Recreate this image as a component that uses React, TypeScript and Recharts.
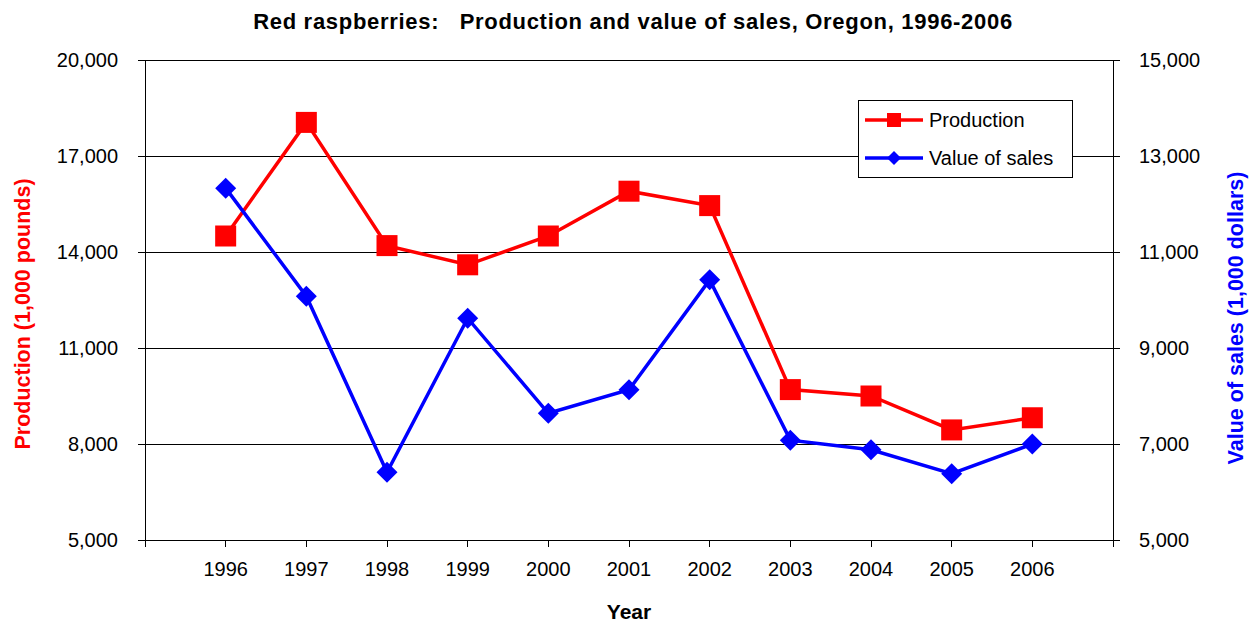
import React from 'react';
import {
  LineChart, Line, XAxis, YAxis, CartesianGrid, Legend
} from 'recharts';

const years = [1996, 1997, 1998, 1999, 2000, 2001, 2002, 2003, 2004, 2005, 2006];
const production = [14500, 18050, 14200, 13600, 14500, 15900, 15450, 9700, 9500, 8440, 8820];
const valueOfSales = [12330, 10080, 6410, 9620, 7640, 8130, 10420, 7080, 6880, 6380, 7000];

const yearTicks = [1995, 1996, 1997, 1998, 1999, 2000, 2001, 2002, 2003, 2004, 2005, 2006, 2007];
const productionTicks = [5000, 8000, 11000, 14000, 17000, 20000];
const salesTicks = [5000, 7000, 9000, 11000, 13000, 15000];

const data = years.map((year, i) => ({
  year,
  production: production[i],
  sales: valueOfSales[i],
}));

const FONT = '"Liberation Sans", Arial, sans-serif';
const RED = '#ff0000';
const BLUE = '#0000ff';

const fmt = (v: number) => v.toLocaleString('en-US');

const SquareDot = (props: any) => {
  const { cx, cy, index } = props;
  if (cx == null || cy == null) return <g key={`s-${index}`} />;
  return <rect key={`s-${index}`} x={cx - 10.5} y={cy - 10.5} width={21} height={21} fill={RED} />;
};

const DiamondDot = (props: any) => {
  const { cx, cy, index } = props;
  if (cx == null || cy == null) return <g key={`d-${index}`} />;
  const r = 10.5;
  return (
    <polygon
      key={`d-${index}`}
      points={`${cx},${cy - r} ${cx + r},${cy} ${cx},${cy + r} ${cx - r},${cy}`}
      fill={BLUE}
    />
  );
};

const LegendBox = () => {
  const row = (label: string, color: string, marker: 'square' | 'diamond') => (
    <div style={{ display: 'flex', alignItems: 'center', height: 38 }}>
      <svg width={66} height={20} style={{ marginLeft: 4 }}>
        <line x1={2} y1={10} x2={60} y2={10} stroke={color} strokeWidth={3.5} />
        {marker === 'square' ? (
          <rect x={24} y={3} width={14} height={14} fill={color} />
        ) : (
          <polygon points="31,3 38,10 31,17 24,10" fill={color} />
        )}
      </svg>
      <span style={{ fontSize: 20, color: '#000', fontFamily: FONT }}>{label}</span>
    </div>
  );
  return (
    <div
      style={{
        border: '1px solid #000',
        background: '#fff',
        width: 213,
        height: 76,
        boxSizing: 'content-box',
      }}
    >
      {row('Production', RED, 'square')}
      {row('Value of sales', BLUE, 'diamond')}
    </div>
  );
};

export default function App() {
  return (
    <div style={{ position: 'absolute', left: 0, top: 0, width: 1252, height: 623, background: '#fff', fontFamily: FONT }}>
      <div
        style={{
          position: 'absolute',
          top: 11,
          left: 633,
          transform: 'translateX(-50%)',
          fontSize: 22,
          lineHeight: '21px',
          fontWeight: 'bold',
          letterSpacing: 0.7,
          whiteSpace: 'pre',
          color: '#000',
        }}
      >
        {'Red raspberries:   Production and value of sales, Oregon, 1996-2006'}
      </div>
      <LineChart
        width={1252}
        height={623}
        data={data}
        margin={{ top: 60, right: 59, bottom: 33, left: 65 }}
        style={{ fontFamily: FONT }}
      >
        <CartesianGrid yAxisId="left" vertical={false} stroke="#000" strokeWidth={1} shapeRendering="crispEdges" />
        <XAxis
          dataKey="year"
          type="number"
          domain={[1995, 2007]}
          ticks={yearTicks}
          interval={0}
          tickFormatter={(v: number) => (v === 1995 || v === 2007 ? '' : String(v))}
          height={50}
          tickSize={7}
          tickMargin={15}
          axisLine={{ stroke: '#000', shapeRendering: 'crispEdges' }}
          tickLine={{ stroke: '#000', shapeRendering: 'crispEdges' }}
          tick={{ fill: '#000', fontSize: 20 }}
          label={{ value: 'Year', position: 'bottom', offset: 14, fill: '#000', fontSize: 21, fontWeight: 'bold' }}
        />
        <YAxis
          yAxisId="left"
          domain={[5000, 20000]}
          ticks={productionTicks}
          interval={0}
          tickFormatter={fmt}
          width={80}
          tickSize={7}
          tickMargin={20}
          axisLine={{ stroke: '#000', shapeRendering: 'crispEdges' }}
          tickLine={{ stroke: '#000', shapeRendering: 'crispEdges' }}
          tick={{ fill: '#000', fontSize: 20 }}
          label={{
            content: () => (
              <text
                x={23}
                y={314}
                transform="rotate(-90 23 314)"
                textAnchor="middle"
                dominantBaseline="central"
                fill={RED}
                fontSize={21.5}
                fontWeight="bold"
              >
                Production (1,000 pounds)
              </text>
            ),
          }}
        />
        <YAxis
          yAxisId="right"
          orientation="right"
          domain={[5000, 15000]}
          ticks={salesTicks}
          interval={0}
          tickFormatter={fmt}
          width={80}
          tickSize={7}
          tickMargin={19}
          axisLine={{ stroke: '#000', shapeRendering: 'crispEdges' }}
          tickLine={{ stroke: '#000', shapeRendering: 'crispEdges' }}
          tick={{ fill: '#000', fontSize: 20 }}
          label={{
            content: () => (
              <text
                x={1236}
                y={318}
                transform="rotate(-90 1236 318)"
                textAnchor="middle"
                dominantBaseline="central"
                fill={BLUE}
                fontSize={21.5}
                fontWeight="bold"
              >
                Value of sales (1,000 dollars)
              </text>
            ),
          }}
        />
        <Legend
          layout="horizontal"
          verticalAlign="middle"
          align="center"
          content={() => <LegendBox />}
          wrapperStyle={{ left: 858, top: 100, width: 215, height: 78 }}
        />
        <Line
          yAxisId="left"
          type="linear"
          dataKey="production"
          name="Production"
          stroke={RED}
          strokeWidth={3.5}
          dot={SquareDot}
          activeDot={false}
          isAnimationActive={false}
        />
        <Line
          yAxisId="right"
          type="linear"
          dataKey="sales"
          name="Value of sales"
          stroke={BLUE}
          strokeWidth={3.5}
          dot={DiamondDot}
          activeDot={false}
          isAnimationActive={false}
        />
      </LineChart>
    </div>
  );
}
